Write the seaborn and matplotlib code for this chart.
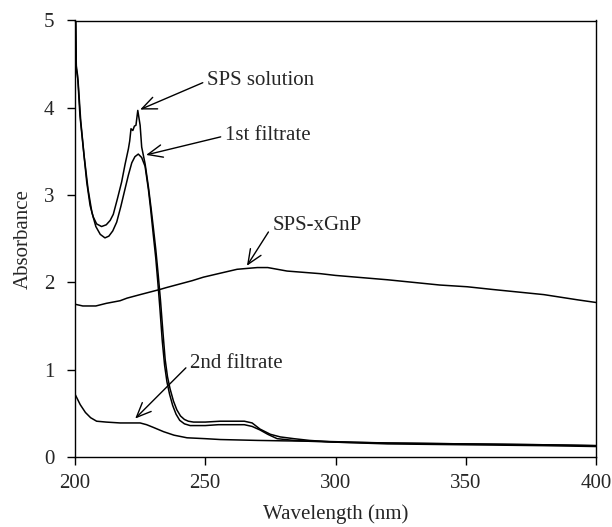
import matplotlib
matplotlib.use("Agg")
import matplotlib.pyplot as plt
import seaborn as sns
import pandas as pd

# ---- data ----
sps_sol_x = [200, 200.5, 201, 201.9, 203.2, 204.5, 205.8, 207, 208.3, 210.2, 212, 213.5, 214.7,
             216.3, 217.9, 219.2, 220.5, 221.0, 221.5, 222.2, 222.8, 223.4, 224.1, 225, 225.6,
             226.9, 228.2, 229.2, 230.1, 231, 231.9, 232.8, 233.7, 234.6, 235.5, 236.5, 237.8,
             239.1, 240.5, 242, 243.5, 245.5, 250, 255.8, 260, 265, 268, 271, 275, 278.8,
             284, 290, 300, 320, 350, 380, 400]
sps_sol_y = [5.6, 4.48, 4.37, 3.91, 3.53, 3.15, 2.88, 2.75, 2.67, 2.64, 2.66, 2.71, 2.78,
             2.96, 3.15, 3.35, 3.53, 3.62, 3.76, 3.74, 3.79, 3.8, 3.97, 3.8, 3.55,
             3.36, 3.09, 2.85, 2.62, 2.38, 2.1, 1.8, 1.45, 1.12, 0.92, 0.78, 0.64,
             0.54, 0.47, 0.43, 0.41, 0.40, 0.40, 0.41, 0.41, 0.41, 0.39, 0.32, 0.26, 0.23,
             0.21, 0.19, 0.17, 0.16, 0.15, 0.14, 0.13]

filt1_x = [200, 200.5, 201.2, 202.2, 203.5, 205, 206.5, 208, 209.7, 211.5, 213, 214.5, 216,
           217.6, 219.2, 220.5, 221.8, 223, 224.3, 225.6, 226.9, 228.2, 229, 230, 231, 231.8,
           232.6, 233.5, 234.4, 235.3, 236.3, 237.5, 238.8, 240.2, 242, 244.2, 250, 255, 260,
           265, 268, 271, 274, 277.6, 284, 290, 300, 320, 350, 380, 400]
filt1_y = [5.6, 4.45, 4.3, 3.85, 3.45, 3.07, 2.8, 2.64, 2.55, 2.51, 2.53, 2.59, 2.69,
           2.87, 3.07, 3.23, 3.37, 3.44, 3.47, 3.43, 3.33, 3.06, 2.85, 2.56, 2.28, 2.0,
           1.7, 1.33, 1.05, 0.86, 0.72, 0.59, 0.49, 0.42, 0.38, 0.36, 0.36, 0.37, 0.37,
           0.37, 0.35, 0.31, 0.26, 0.21, 0.19, 0.18, 0.17, 0.15, 0.14, 0.13, 0.12]

filt2_x = [200, 202, 204, 206, 208.3, 212, 217.3, 225, 227.5, 230, 234, 238, 243, 250, 255.8,
           270, 280, 294, 320, 350, 380, 400]
filt2_y = [0.72, 0.6, 0.51, 0.45, 0.41, 0.40, 0.39, 0.39, 0.37, 0.34, 0.29, 0.25, 0.22, 0.21,
           0.20, 0.19, 0.185, 0.18, 0.16, 0.15, 0.14, 0.13]

gnp_x = [200, 203, 208, 212, 217.3, 220, 225, 232.7, 235, 240, 245, 249.3, 255, 262.2, 266,
         270, 274, 281.4, 294.2, 300, 312, 320, 330, 340, 350.6, 360, 370, 380, 386.5, 393, 400]
gnp_y = [1.75, 1.73, 1.73, 1.76, 1.79, 1.82, 1.86, 1.92, 1.94, 1.98, 2.02, 2.06, 2.10, 2.15,
         2.16, 2.17, 2.17, 2.13, 2.10, 2.08, 2.05, 2.03, 2.00, 1.97, 1.95, 1.92, 1.89, 1.86,
         1.83, 1.80, 1.77]

xticks = [200, 250, 300, 350, 400]
yticks = [0, 1, 2, 3, 4, 5]

series = [("SPS solution", sps_sol_x, sps_sol_y),
          ("1st filtrate", filt1_x, filt1_y),
          ("2nd filtrate", filt2_x, filt2_y),
          ("SPS-xGnP", gnp_x, gnp_y)]
frames = [pd.DataFrame({"wl": x, "abs": y, "name": n}) for n, x, y in series]
df = pd.concat(frames, ignore_index=True)

sns.set_style("white")
plt.rcParams["font.family"] = ["Liberation Serif", "DejaVu Serif"]
plt.rcParams["font.size"] = 15

fig = plt.figure(figsize=(6.12, 5.27), dpi=100)
ax = fig.add_axes([75 / 612, 1 - 457 / 527, (596 - 75) / 612, (457 - 20.5) / 527])

sns.lineplot(data=df, x="wl", y="abs", hue="name", units="name", estimator=None,
             sort=False, palette=["black"] * 4, legend=False, linewidth=1.1, ax=ax)

ax.set_xlim(200, 400)
ax.set_ylim(0, 5)
ax.set_xticks(xticks)
ax.set_yticks(yticks)
ax.tick_params(direction="out", length=6, width=1, color="black", labelsize=15,
               bottom=True, left=True)
ax.tick_params(axis="x", pad=6)
ax.tick_params(axis="y", pad=9)
for s in ax.spines.values():
    s.set_color("black")
    s.set_linewidth(1.0)
ax.set_xlabel("Wavelength (nm)", fontsize=15, labelpad=8)
ax.set_ylabel("Absorbance", fontsize=15, labelpad=8)

arrow = dict(arrowstyle="->,head_length=0.7,head_width=0.3", color="black", lw=1.0,
             shrinkA=1, shrinkB=0, relpos=(0, 0.5))
ax.annotate("SPS solution", xy=(225, 3.98), xytext=(250.8, 4.31), ha="left", va="center",
            fontsize=15, arrowprops=arrow)
ax.annotate("1st filtrate", xy=(227.3, 3.46), xytext=(257.7, 3.68), ha="left", va="center",
            fontsize=15, arrowprops=arrow)
ax.annotate("SPS-xGnP", xy=(266, 2.19), xytext=(275.8, 2.65), ha="left", va="center",
            fontsize=15, arrowprops=arrow)
ax.annotate("2nd filtrate", xy=(223.1, 0.44), xytext=(244.2, 1.07), ha="left", va="center",
            fontsize=15, arrowprops=arrow)

fig.savefig("out.png", dpi=100)
